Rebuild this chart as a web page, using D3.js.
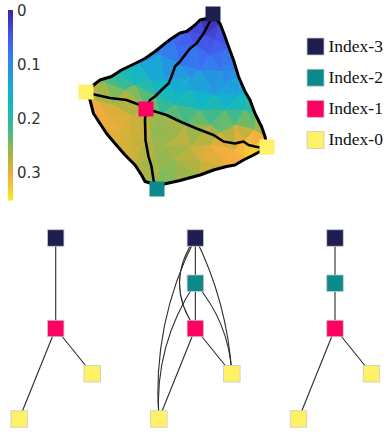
<!DOCTYPE html>
<html>
<head>
<meta charset="utf-8">
<script src="https://cdn.jsdelivr.net/npm/d3@7"></script>
<style>
  html, body { margin: 0; padding: 0; background: #fff; }
  svg { display: block; }
</style>
</head>
<body>
<svg id="chart" width="385" height="432"></svg>
<script>
// ---- colour map (value -> colour) ----
const colorStopValues = [0, 0.02, 0.04, 0.07, 0.10, 0.135, 0.165, 0.195, 0.225, 0.25, 0.27, 0.29, 0.30, 0.32, 0.337, 0.35];
const colorStopHexes  = ["#3b2b9c", "#4038c0", "#4450e6", "#3b6cf4", "#2a8ce6", "#1aa5d8", "#10b5c8", "#22b9aa",
                         "#4cba80", "#88ba55", "#b2b242", "#d8b038", "#f3ab40", "#f6c038", "#f2dc28", "#f4f022"];
const colorDomain = [0, 0.35];
const colorTicks = [0, 0.1, 0.2, 0.3];

// ---- scalar field samples: [x, y, value] ----
const fieldBoundarySamples = [
  [26, 35.4, 0.00], [24, 35, 0.02], [21.3, 32.7, 0.05], [18.3, 31.3, 0.07], [15, 28.7, 0.10],
  [11, 26.3, 0.14], [8.3, 25, 0.17], [6.3, 23.7, 0.20], [4, 23, 0.24], [1.6, 21, 0.29],
  [2, 19, 0.30], [4, 14.3, 0.30], [7, 10.3, 0.29], [11, 6, 0.28], [13, 2.7, 0.27],
  [16, 2, 0.25], [19, 3, 0.25], [24, 4, 0.27], [29.3, 5.7, 0.30], [32.7, 7, 0.31],
  [36, 8.7, 0.34], [37.4, 9.6, 0.35], [37, 11.7, 0.30], [35, 16.3, 0.22], [33, 20.7, 0.17],
  [31.7, 23.7, 0.12], [30.7, 27, 0.09], [29.7, 29.7, 0.06], [28, 34.3, 0.02]
];
const fieldInteriorSamples = [
  [25, 32, 0.03], [27, 31, 0.04], [29, 29, 0.06], [23, 30, 0.05], [19, 30, 0.07],
  [16, 28, 0.10], [12, 26, 0.13], [8, 24, 0.17], [5, 22.6, 0.22], [20, 26, 0.09],
  [24, 25, 0.10], [28, 25, 0.09], [31, 25, 0.09], [17, 23, 0.15], [22, 21, 0.15],
  [27, 20, 0.14], [32, 20, 0.14], [15, 20, 0.19], [19, 18, 0.19], [24, 17, 0.21],
  [29, 17, 0.20], [33, 17, 0.20], [16, 16, 0.24], [21, 14, 0.26], [26, 14, 0.24],
  [31, 14, 0.25], [35, 13, 0.27], [33, 11, 0.32], [35, 10, 0.34], [20, 12, 0.29],
  [26, 10, 0.30], [31, 9, 0.31], [24, 7, 0.28], [19, 7, 0.26], [16, 5, 0.25],
  [18, 4, 0.24], [12, 9, 0.28], [8, 13, 0.29], [5, 16, 0.30], [3, 19, 0.30],
  [10, 16, 0.29], [14, 12, 0.27], [17, 10, 0.25], [13.2, 17.2, 0.28], [9, 21, 0.24],
  [11, 22, 0.22], [14, 23, 0.18], [21, 33.5, 0.04], [26, 28, 0.07], [22, 23.5, 0.12],
  [29, 22, 0.12], [19, 20.5, 0.17], [6.5, 18, 0.28], [10, 11, 0.29], [22, 9.5, 0.28],
  [28, 12.5, 0.26], [30, 7.5, 0.30], [15, 8, 0.26]
];

// ---- domain outline and separatrices ----
const outline = [
  [26, 35.4], [25.3, 35.3], [24, 35], [23, 34], [21.3, 32.7], [20, 32.4], [18.3, 31.3], [17, 30.3],
  [15, 28.7], [13, 27.3], [11, 26.3], [8.3, 25], [6.3, 23.7], [4, 23], [3.1, 22.3], [1.6, 21],
  [1.6, 20], [2, 19], [2.7, 16.3], [4, 14.3], [5.3, 12.3], [7, 10.3], [9, 8], [11, 6],
  [12.3, 4], [13, 2.7], [14.3, 2.3], [16, 2], [17.3, 2.3], [20, 2.9], [24, 4], [26.7, 5],
  [29.3, 5.7], [31, 6], [32.7, 7], [34.7, 8], [36, 8.7], [37.4, 9.6], [37, 11.7], [36.3, 13.7],
  [35, 16.3], [34, 19], [33, 20.7], [31.7, 23.7], [30.7, 27], [29.7, 29.7], [29, 31.7],
  [28, 34.3], [27, 35.4]
];
const separatrixTop   = [[26.3, 35.3], [24.7, 32.3], [23.3, 30.3], [22, 29.3], [21, 28], [20, 26.7], [19, 25.7],
                         [18.3, 23.7], [17.7, 22.3], [16.3, 21], [15, 19.7], [14, 19], [13.2, 17.2]];
const separatrixLeft  = [[1.6, 20.4], [3.3, 20], [6, 19.4], [9.3, 19], [12, 18], [13.2, 17.2]];
const separatrixRight = [[13.2, 17.2], [14, 17], [17.3, 16], [20, 14.7], [23.3, 13.3], [26.7, 12], [28.7, 10.7],
                         [31, 10.3], [32.7, 10.7], [33.7, 10], [35, 9.7], [36, 9.5], [37.4, 9.6]];
const separatrixDown  = [[13.2, 17.2], [13, 15], [13.1, 11], [13.7, 7.7], [14.3, 5.7], [14.7, 3], [14.9, 2.3]];

// ---- critical points ----
const criticalX = [26.6, 13.2, 1.2, 37.4, 15.4];
const criticalY = [36.2, 17.2, 20.6, 9.6, 1.2];
const criticalIndex = [3, 1, 0, 0, 2];

// ---- index colours and legend ----
const indexColors = ["#fff166", "#ff0062", "#0b898b", "#1e1e50"];
const legendIndices = [3, 2, 1, 0];

// ---- merge-tree style graphs ----
const graphNodes = [
  { graph: 0, id: "a", index: 3, level: 0, side: 0 },
  { graph: 0, id: "c", index: 1, level: 2, side: 0 },
  { graph: 0, id: "d", index: 0, level: 3, side: 1 },
  { graph: 0, id: "e", index: 0, level: 4, side: -1 },
  { graph: 1, id: "a", index: 3, level: 0, side: 0 },
  { graph: 1, id: "b", index: 2, level: 1, side: 0 },
  { graph: 1, id: "c", index: 1, level: 2, side: 0 },
  { graph: 1, id: "d", index: 0, level: 3, side: 1 },
  { graph: 1, id: "e", index: 0, level: 4, side: -1 },
  { graph: 2, id: "a", index: 3, level: 0, side: 0 },
  { graph: 2, id: "b", index: 2, level: 1, side: 0 },
  { graph: 2, id: "c", index: 1, level: 2, side: 0 },
  { graph: 2, id: "d", index: 0, level: 3, side: 1 },
  { graph: 2, id: "e", index: 0, level: 4, side: -1 }
];
const graphEdges = [
  { graph: 0, source: "a", target: "c", bend: 0, kind: "dark" },
  { graph: 0, source: "c", target: "d", bend: 0, kind: "dark" },
  { graph: 0, source: "c", target: "e", bend: 0, kind: "dark" },
  { graph: 1, source: "a", target: "b", bend: 0, kind: "dark" },
  { graph: 1, source: "b", target: "c", bend: 0, kind: "dark" },
  { graph: 1, source: "a", target: "c", bend: -0.35, kind: "dark" },
  { graph: 1, source: "a", target: "e", bend: -0.14, kind: "dark" },
  { graph: 1, source: "a", target: "d", bend: 0.10, kind: "dark" },
  { graph: 1, source: "b", target: "e", bend: -0.17, kind: "dark" },
  { graph: 1, source: "b", target: "d", bend: 0.17, kind: "dark" },
  { graph: 1, source: "c", target: "d", bend: 0, kind: "dark" },
  { graph: 1, source: "c", target: "e", bend: 0, kind: "dark" },
  { graph: 2, source: "a", target: "b", bend: 0, kind: "grey" },
  { graph: 2, source: "b", target: "c", bend: 0, kind: "grey" },
  { graph: 2, source: "c", target: "d", bend: 0, kind: "dark" },
  { graph: 2, source: "c", target: "e", bend: 0, kind: "dark" }
];

// ================= drawing =================
const svg = d3.select("#chart");

const color = d3.scaleLinear()
  .domain(colorStopValues)
  .range(colorStopHexes)
  .interpolate(d3.interpolateRgb)
  .clamp(true);

// ---- surface panel ----
const sx = d3.scaleLinear().domain([0, 39]).range([80, 275]);
const sy = d3.scaleLinear().domain([0, 38]).range([195, 5]);

const samples = fieldBoundarySamples.concat(fieldInteriorSamples);
const pts = samples.map(d => [sx(d[0]), sy(d[1])]);
const delaunay = d3.Delaunay.from(pts);
const tris = [];
for (let i = 0; i < delaunay.triangles.length; i += 3) {
  tris.push([delaunay.triangles[i], delaunay.triangles[i + 1], delaunay.triangles[i + 2]]);
}

const defs = svg.append("defs");
const outlineLine = d3.line().x(d => sx(d[0])).y(d => sy(d[1]));
defs.append("clipPath").attr("id", "domainClip")
  .append("path").attr("d", outlineLine(outline) + "Z");

const surface = svg.append("g").attr("clip-path", "url(#domainClip)");
surface.selectAll("path.tri")
  .data(tris)
  .join("path")
  .attr("class", "tri")
  .attr("d", t => "M" + t.map(k => pts[k].join(",")).join("L") + "Z")
  .attr("fill", t => color(d3.mean(t, k => samples[k][2])))
  .attr("stroke", t => color(d3.mean(t, k => samples[k][2])))
  .attr("stroke-width", 0.6)
  .attr("stroke-linejoin", "round");

svg.append("path")
  .attr("d", outlineLine(outline) + "Z")
  .attr("fill", "none")
  .attr("stroke", "#000")
  .attr("stroke-width", 3)
  .attr("stroke-linejoin", "round");

svg.append("g").selectAll("path")
  .data([separatrixTop, separatrixLeft, separatrixRight, separatrixDown])
  .join("path")
  .attr("d", d => outlineLine(d))
  .attr("fill", "none")
  .attr("stroke", "#000")
  .attr("stroke-width", 2.6)
  .attr("stroke-linejoin", "round")
  .attr("stroke-linecap", "round");

const topSize = 15;
svg.append("g").selectAll("rect")
  .data(criticalX.map((x, i) => ({ x, y: criticalY[i], index: criticalIndex[i] })))
  .join("rect")
  .attr("x", d => sx(d.x) - topSize / 2)
  .attr("y", d => sy(d.y) - topSize / 2)
  .attr("width", topSize)
  .attr("height", topSize)
  .attr("fill", d => indexColors[d.index]);

// ---- colour bar ----
const cy = d3.scaleLinear().domain(colorDomain).range([10, 200]);
const cbar = svg.append("g");
const barSteps = d3.range(colorDomain[0], colorDomain[1], (colorDomain[1] - colorDomain[0]) / 190);
cbar.selectAll("rect")
  .data(barSteps)
  .join("rect")
  .attr("x", 8)
  .attr("y", d => cy(d))
  .attr("width", 5)
  .attr("height", (cy.range()[1] - cy.range()[0]) / 190 + 0.6)
  .attr("fill", d => color(d));
cbar.selectAll("text")
  .data(colorTicks)
  .join("text")
  .attr("x", 17)
  .attr("y", d => cy(d) + 1)
  .attr("dominant-baseline", "middle")
  .attr("font-family", "'DejaVu Sans', sans-serif")
  .attr("font-size", 15)
  .attr("fill", "#333")
  .text(d => d3.format("")(d));

// ---- legend ----
const ly = d3.scalePoint().domain(legendIndices).range([46.5, 140]);
const legend = svg.append("g");
legend.selectAll("rect")
  .data(legendIndices)
  .join("rect")
  .attr("x", 307)
  .attr("y", d => ly(d) - 8.5)
  .attr("width", 17)
  .attr("height", 17)
  .attr("fill", d => indexColors[d])
  .attr("stroke", "#c9c9c9")
  .attr("stroke-width", 0.8);
legend.selectAll("text")
  .data(legendIndices)
  .join("text")
  .attr("x", 328.5)
  .attr("y", d => ly(d) + 1)
  .attr("dominant-baseline", "middle")
  .attr("font-family", "'Liberation Serif', 'DejaVu Serif', 'Times New Roman', serif")
  .attr("font-size", 17.5)
  .attr("fill", "#111")
  .text(d => "Index-" + d);

// ---- graphs ----
const gCenter = d3.scaleLinear().domain([0, 2]).range([55.7, 335]);
const gy = d3.scaleLinear().domain([0, 4]).range([238, 419]);
const sideOffset = 36.5;
const nodePos = (g, id) => {
  const n = graphNodes.find(d => d.graph === g && d.id === id);
  return [gCenter(g) + n.side * sideOffset, gy(n.level)];
};

const edgesG = svg.append("g");
edgesG.selectAll("path")
  .data(graphEdges)
  .join("path")
  .attr("d", e => {
    const [x1, y1] = nodePos(e.graph, e.source);
    const [x2, y2] = nodePos(e.graph, e.target);
    const mx = (x1 + x2) / 2, my = (y1 + y2) / 2;
    const dx = x2 - x1, dy = y2 - y1;
    const cx = mx + e.bend * dy, cyy = my - e.bend * dx;
    const p = d3.path();
    p.moveTo(x1, y1);
    p.quadraticCurveTo(cx, cyy, x2, y2);
    return p.toString();
  })
  .attr("fill", "none")
  .attr("stroke", e => e.kind === "grey" ? "#8a8a8a" : "#2b2b2b")
  .attr("stroke-width", e => e.kind === "grey" ? 2 : 1.1);

const nodeSize = 16.5;
svg.append("g").selectAll("rect")
  .data(graphNodes)
  .join("rect")
  .attr("x", d => nodePos(d.graph, d.id)[0] - nodeSize / 2)
  .attr("y", d => nodePos(d.graph, d.id)[1] - nodeSize / 2)
  .attr("width", nodeSize)
  .attr("height", nodeSize)
  .attr("fill", d => indexColors[d.index])
  .attr("stroke", "#c9c9c9")
  .attr("stroke-width", 0.8);
</script>
</body>
</html>
